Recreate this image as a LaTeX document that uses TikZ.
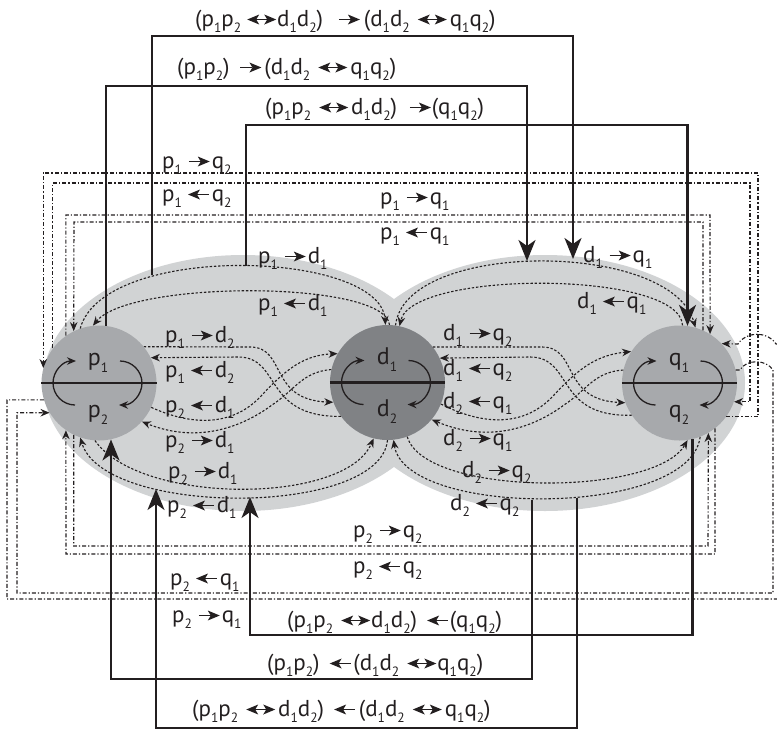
\documentclass[tikz,border=0pt]{standalone}
\usepackage{fontspec}
\setmainfont{PT Sans}
\usetikzlibrary{arrows.meta}
\definecolor{ink}{HTML}{231F20}
\definecolor{lobe}{HTML}{D1D3D4}
\definecolor{pqgray}{HTML}{A7A9AC}
\definecolor{dgray}{HTML}{808285}
\newcommand\sbs[1]{\raisebox{-0.3em}{\fontsize{13.5}{13.5}\selectfont #1}}
\newcommand\Pone{p\sbs{1}}
\newcommand\Ptwo{p\sbs{2}}
\newcommand\Done{d\sbs{1}}
\newcommand\Dtwo{d\sbs{2}}
\newcommand\Qone{q\sbs{1}}
\newcommand\Qtwo{q\sbs{2}}
\newsavebox\myRAbox
\newsavebox\myLAbox
\newsavebox\myLRbox
\newcommand\myra{\usebox\myRAbox}
\newcommand\myla{\usebox\myLAbox}
\newcommand\mylr{\usebox\myLRbox}
\begin{document}
\sbox\myRAbox{\begin{pgfpicture}\pgfsetbaseline{-6.5pt}\pgfsetcolor{ink}\pgfsetlinewidth{1.5pt}%
\pgfpathmoveto{\pgfpoint{0pt}{0pt}}\pgfpathlineto{\pgfpoint{12pt}{0pt}}\pgfusepath{stroke}%
\pgfpathmoveto{\pgfpoint{21pt}{0pt}}\pgfpathlineto{\pgfpoint{9pt}{5pt}}\pgfpathlineto{\pgfpoint{12pt}{0pt}}\pgfpathlineto{\pgfpoint{9pt}{-5pt}}\pgfpathclose\pgfusepath{fill}%
\end{pgfpicture}}%
\sbox\myLAbox{\begin{pgfpicture}\pgfsetbaseline{-6.5pt}\pgfsetcolor{ink}\pgfsetlinewidth{1.5pt}%
\pgfpathmoveto{\pgfpoint{9pt}{0pt}}\pgfpathlineto{\pgfpoint{21pt}{0pt}}\pgfusepath{stroke}%
\pgfpathmoveto{\pgfpoint{0pt}{0pt}}\pgfpathlineto{\pgfpoint{12pt}{5pt}}\pgfpathlineto{\pgfpoint{9pt}{0pt}}\pgfpathlineto{\pgfpoint{12pt}{-5pt}}\pgfpathclose\pgfusepath{fill}%
\end{pgfpicture}}%
\sbox\myLRbox{\begin{pgfpicture}\pgfsetbaseline{-6.5pt}\pgfsetcolor{ink}\pgfsetlinewidth{1.5pt}%
\pgfpathmoveto{\pgfpoint{9pt}{0pt}}\pgfpathlineto{\pgfpoint{20pt}{0pt}}\pgfusepath{stroke}%
\pgfpathmoveto{\pgfpoint{0pt}{0pt}}\pgfpathlineto{\pgfpoint{12pt}{5pt}}\pgfpathlineto{\pgfpoint{9pt}{0pt}}\pgfpathlineto{\pgfpoint{12pt}{-5pt}}\pgfpathclose\pgfusepath{fill}%
\pgfpathmoveto{\pgfpoint{29pt}{0pt}}\pgfpathlineto{\pgfpoint{17pt}{5pt}}\pgfpathlineto{\pgfpoint{20pt}{0pt}}\pgfpathlineto{\pgfpoint{17pt}{-5pt}}\pgfpathclose\pgfusepath{fill}%
\end{pgfpicture}}%
\begin{tikzpicture}[x=1pt,y=-1pt,
  dashdot/.style={draw=ink,line width=1.1pt,dash pattern=on 4pt off 2pt on 1.2pt off 2pt},
  dotline/.style={draw=ink,line width=1.1pt,dash pattern=on 2.4pt off 1.8pt},
  heavy/.style={draw=ink,line width=2.2pt},
  smalltip/.style={-{Stealth[length=9pt,width=7.5pt]}},
  bigtip/.style={-{Stealth[length=21pt,width=17pt,inset=6pt]}},
  lab/.style={anchor=base west,inner sep=0pt,text=ink,font=\fontsize{23}{26}\selectfont},
  clab/.style={anchor=base,inner sep=0pt,text=ink,font=\fontsize{24}{26}\selectfont},
  ball/.style={circle,minimum size=115pt,inner sep=0pt},
  spin/.pic={
    \draw[ink,line width=1.3pt,smalltip] (-24,22) .. controls (-36,22) and (-46,12) .. (-46,0) .. controls (-46,-12) and (-36,-22) .. (-23,-22);
    \draw[ink,line width=1.3pt,smalltip] (21,-22) .. controls (33,-22) and (43,-12) .. (43,0) .. controls (43,12) and (33,22) .. (20,22);
  },
]
\useasboundingbox (0,0) rectangle (777,729);
% lobes
\fill[lobe] (243,383) ellipse [x radius=200,y radius=128];
\fill[lobe] (545,383) ellipse [x radius=200,y radius=128];
% balls
\node[ball,fill=pqgray] (p) at (99,383) {};
\node[ball,fill=dgray] (d) at (387.5,382.5) {};
\node[ball,fill=pqgray] (q) at (679.5,383) {};
\draw[heavy] (p.west) -- (p.east);
\draw[heavy] (d.west) -- (d.east);
\draw[heavy] (q.west) -- (q.east);
\pic at (p) {spin};
\pic at (d) {spin};
\pic at (q) {spin};
\node[clab] (pa) at (98,365) {\Pone};
\node[clab] (pb) at (98,417) {\Ptwo};
\node[clab] (da) at (387,364) {\Done};
\node[clab] (db) at (387,416) {\Dtwo};
\node[clab] (qa) at (679,365) {\Qone};
\node[clab] (qb) at (679,417) {\Qtwo};
% dotted arcs, left lobe
\draw[dotline,smalltip] (p.109) .. controls (104,242) and (380,250) .. (d.92);
\draw[dotline,smalltip] (d.88) .. controls (385,280) and (130,280) .. (p.96);
\draw[dotline,smalltip] (p.-94) .. controls (140,505) and (345,505) .. (d.-104);
\draw[dotline,smalltip] (d.-90) .. controls (380,517) and (104,517) .. (p.-109);
\draw[dotline,smalltip] (p.39) -- (250,347) .. controls (287,347) and (268,400) .. (d.200);
\draw[dotline,smalltip] (d.216) .. controls (262,417) and (282,357) .. (238,357) -- (p.26);
\draw[dotline,smalltip] (p.-25) .. controls (190,425) and (232,428) .. (262,395) .. controls (287,368) and (305,355) .. (d.150);
\draw[dotline,smalltip] (d.167) .. controls (302,372) and (295,390) .. (272,405) .. controls (245,425) and (200,445) .. (p.-42);
% dotted arcs, right lobe
\draw[dotline,smalltip] (d.82) .. controls (405,240) and (671,240) .. (q.74);
\draw[dotline,smalltip] (q.87) .. controls (680,270) and (412,270) .. (d.78);
\draw[dotline,smalltip] (d.-70) .. controls (425,497) and (655,497) .. (q.-82);
\draw[dotline,smalltip] (q.-69) .. controls (690,518) and (405,518) .. (d.-84);
\draw[dotline,smalltip] (d.38) -- (542,347) .. controls (579,347) and (560,400) .. (q.200);
\draw[dotline,smalltip] (q.214) .. controls (554,417) and (574,357) .. (530,357) -- (d.25);
\draw[dotline,smalltip] (d.-22) .. controls (482,425) and (524,428) .. (554,395) .. controls (579,368) and (597,355) .. (q.147);
\draw[dotline,smalltip] (q.167) .. controls (594,372) and (587,390) .. (564,405) .. controls (537,425) and (492,445) .. (d.-40);
% dash-dot p-q links
\draw[dashdot,smalltip] (q.-36) -| (758,173) -| (p.165);
\draw[dashdot,smalltip] (p.143) |- (750,183) |- (q.-19);
\draw[dashdot,smalltip] (p.125) |- (710,215) -- (q.58);
\draw[dashdot,smalltip] (q.66) |- (74,222) -- (p.116);
\draw[dashdot,smalltip] (p.244) |- (708,546) -- (q.-60);
\draw[dashdot,smalltip] (q.-52) |- (66,554) -- (p.235);
\draw[dashdot,smalltip] (p.197) -| (7,599) -| (782,344) -- (776,344) .. controls (768,331) and (746,331) .. (738,344) -- (q.43);
\draw[dashdot,smalltip] (q.13) -- (740,370) .. controls (746,359) and (766,359) .. (773,370) |- (17,593) |- (p.211);
% heavy links
\coordinate (t1s) at (152,275);
\coordinate (t1e) at (573,259);
\coordinate (t2e) at (527,261);
\coordinate (t3s) at (246,266);
\coordinate (b1e) at (250,497);
\coordinate (b2s) at (532,500);
\coordinate (b3s) at (577,498);
\coordinate (b3e) at (156,489);
\draw[heavy,bigtip] (t1s) |- (573,36) -- (t1e);
\draw[heavy,bigtip] (p.83) |- (527,86) -- (t2e);
\draw[heavy,bigtip] (t3s) |- (687,125) -| (q.82);
\draw[heavy,bigtip] (q.-77) |- (250,635) -- (b1e);
\draw[heavy,bigtip] (b2s) |- (111,679) -| (p.-78);
\draw[heavy,bigtip] (b3s) |- (156,728) -- (b3e);
% labels
\node[lab] (L1) at (195,26) {(\Pone\Ptwo\hspace{6pt}\mylr\hspace{1pt}\Done\Dtwo)\hspace{15pt}\myra\hspace{4pt}(\Done\Dtwo\hspace{8pt}\mylr\hspace{3pt}\Qone\Qtwo)};
\node[lab] (L2) at (177,74) {(\Pone\Ptwo)\hspace{10pt}\myra\hspace{3pt}(\Done\Dtwo\hspace{8pt}\mylr\hspace{3pt}\Qone\Qtwo)};
\node[lab] (L3) at (265,114) {(\Pone\Ptwo\hspace{8pt}\mylr\hspace{3pt}\Done\Dtwo)\hspace{12pt}\myra\hspace{1pt}(\Qone\Qtwo)};
\node[lab] (L4) at (162,168) {\Pone\hspace{6pt}\myra\hspace{2pt}\Qtwo};
\node[lab] (L5) at (162,201) {\Pone\hspace{6pt}\myla\hspace{2pt}\Qtwo};
\node[lab] (L6) at (380,204) {\Pone\hspace{6pt}\myra\hspace{2pt}\Qone};
\node[lab] (L7) at (380,239) {\Pone\hspace{6pt}\myla\hspace{2pt}\Qone};
\node[lab] (L8) at (258,263) {\Pone\hspace{6pt}\myra\hspace{2pt}\Done};
\node[lab] (L9) at (258,310) {\Pone\hspace{6pt}\myla\hspace{2pt}\Done};
\node[lab] (L10) at (583,262) {\Done\hspace{6pt}\myra\hspace{2pt}\Qone};
\node[lab] (L11) at (577,308) {\Done\hspace{6pt}\myla\hspace{2pt}\Qone};
\node[lab] (L12) at (165,342) {\Pone\hspace{6pt}\myra\hspace{2pt}\Dtwo};
\node[lab] (L13) at (165,377) {\Pone\hspace{6pt}\myla\hspace{2pt}\Dtwo};
\node[lab] (L14) at (165,412) {\Ptwo\hspace{6pt}\myla\hspace{2pt}\Done};
\node[lab] (L15) at (165,447) {\Ptwo\hspace{6pt}\myra\hspace{2pt}\Done};
\node[lab] (L16) at (168,478) {\Ptwo\hspace{6pt}\myra\hspace{2pt}\Done};
\node[lab] (L17) at (167,512) {\Ptwo\hspace{6pt}\myla\hspace{2pt}\Done};
\node[lab] (L18) at (443,340) {\Done\hspace{6pt}\myra\hspace{2pt}\Qtwo};
\node[lab] (L19) at (443,375) {\Done\hspace{6pt}\myla\hspace{2pt}\Qtwo};
\node[lab] (L20) at (443,408) {\Dtwo\hspace{6pt}\myla\hspace{2pt}\Qone};
\node[lab] (L21) at (443,445) {\Dtwo\hspace{6pt}\myra\hspace{2pt}\Qone};
\node[lab] (L22) at (462,477) {\Dtwo\hspace{6pt}\myra\hspace{2pt}\Qtwo};
\node[lab] (L23) at (450,510) {\Dtwo\hspace{6pt}\myla\hspace{2pt}\Qtwo};
\node[lab] (L24) at (353,537) {\Ptwo\hspace{6pt}\myra\hspace{2pt}\Qtwo};
\node[lab] (L25) at (353,573) {\Ptwo\hspace{6pt}\myla\hspace{2pt}\Qtwo};
\node[lab] (L26) at (170,585) {\Ptwo\hspace{6pt}\myla\hspace{2pt}\Qone};
\node[lab] (L27) at (172,622) {\Ptwo\hspace{6pt}\myra\hspace{2pt}\Qone};
\node[lab] (L28) at (287,627) {(\Pone\Ptwo\hspace{8pt}\mylr\hspace{1pt}\Done\Dtwo)\hspace{10pt}\myla\hspace{1pt}(\Qone\Qtwo)};
\node[lab] (L29) at (267,670) {(\Pone\Ptwo)\hspace{10pt}\myla\hspace{2pt}(\Done\Dtwo\hspace{8pt}\mylr\hspace{1pt}\Qone\Qtwo)};
\node[lab] (L30) at (192,716) {(\Pone\Ptwo\hspace{8pt}\mylr\hspace{3pt}\Done\Dtwo)\hspace{10pt}\myla\hspace{3pt}(\Done\Dtwo\hspace{8pt}\mylr\hspace{3pt}\Qone\Qtwo)};
\end{tikzpicture}
\end{document}
